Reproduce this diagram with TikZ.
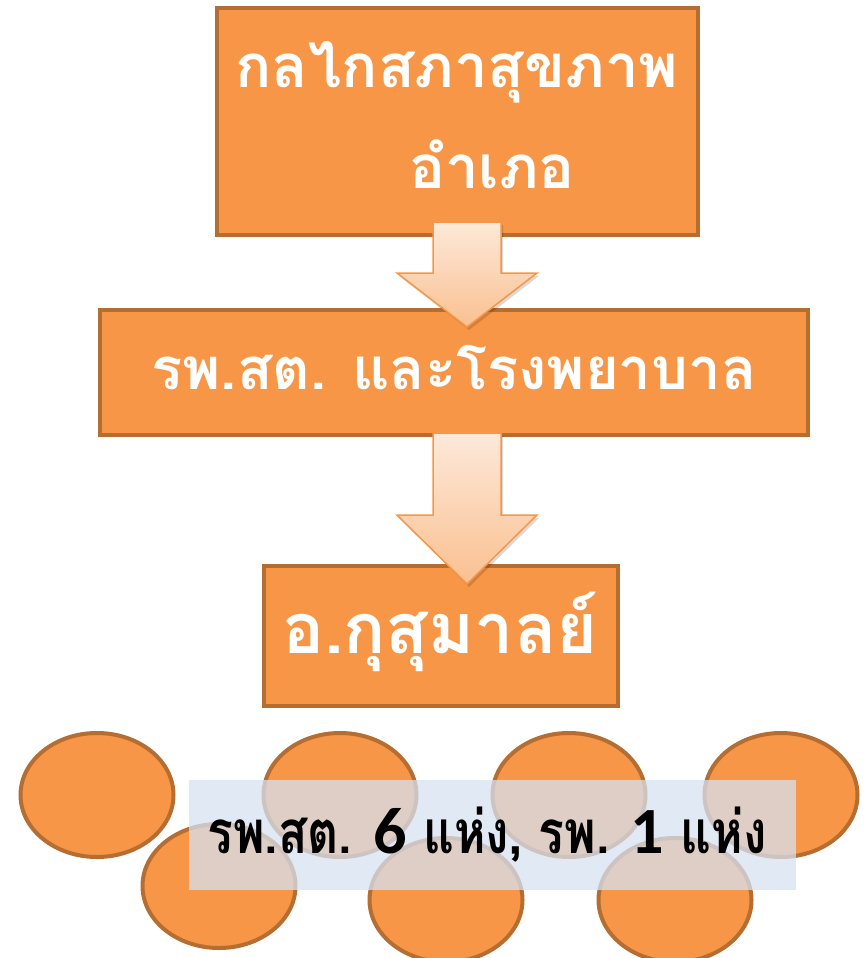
\documentclass[tikz,border=0pt]{standalone}
\usepackage{fontspec}
\newfontfamily\thaifont[Script=Thai]{Loma}
\newfontfamily\thaicond[Script=Thai,FakeStretch=0.8]{Loma}
\newfontfamily\digitfont{Carlito}
\usetikzlibrary{shapes.geometric}
\definecolor{boxfill}{HTML}{F79646}
\definecolor{boxline}{HTML}{B66D31}
\definecolor{arrtop}{HTML}{FDE9D9}
\definecolor{arrbot}{HTML}{FAC090}
\definecolor{arrline}{HTML}{F79646}
\definecolor{bluebox}{HTML}{D6E1F0}
\tikzset{
  box/.style={draw=boxline, fill=boxfill, line width=4pt, rectangle, inner sep=0pt},
  boxtext/.style={text=white, font=\thaifont\bfseries\fontsize{60}{101}\selectfont, inner sep=0pt},
  ell/.style={draw=boxline, fill=boxfill, line width=4pt, ellipse, inner sep=0pt, minimum width=153pt, minimum height=124pt},
  blockarrow/.style={top color=arrtop, bottom color=arrbot, draw=arrline, line width=1.5pt, line join=miter},
  arrshadow/.style={fill=black, opacity=0.15},
  digit/.style={},
}
\newcommand{\bigdigit}[1]{{\digitfont\bfseries\fontsize{66}{60}\selectfont #1}}
\begin{document}
\begin{tikzpicture}[x=1pt,y=-1pt]
\useasboundingbox (0,0) rectangle (864,958);
% boxes
\node[box, minimum width=481pt, minimum height=227pt] (b1) at (457.5,121.5) {};
\node[boxtext, anchor=base] (t1a) at (457,87) {กลไกสภาสุขภาพ};
\node[boxtext, anchor=base] (t1b) at (492,188) {อำเภอ};
\node[box, minimum width=708pt, minimum height=125pt] (b2) at (454,372.5) {};
\node[boxtext, anchor=base, font=\thaifont\bfseries\fontsize{58}{80}\selectfont] (t2) at (454,389) {รพ.สต. และโรงพยาบาล};
% arrow 1
\coordinate (a1) at (467,222);
\fill[arrshadow] ([xshift=2pt,yshift=-3pt]a1) ++(-34,0) -- ++(68,0) -- ++(0,51) -- ++(36,0) -- ++(-70,54) -- ++(-70,-54) -- ++(36,0) -- cycle;
\shade[blockarrow] (a1) ++(-34,0) -- ++(68,0) -- ++(0,51) -- ++(36,0) -- ++(-70,54) -- ++(-70,-54) -- ++(36,0) -- cycle;
\node[box, minimum width=354pt, minimum height=140pt] (b3) at (441,636) {};
\node[boxtext, anchor=base, font=\thaifont\bfseries\fontsize{70}{80}\selectfont] (t3) at (440,653) {อ.กุสุมาลย์};
% arrow 2
\coordinate (a2) at (467,433);
\fill[arrshadow] ([xshift=2pt,yshift=-3pt]a2) ++(-34,0) -- ++(68,0) -- ++(0,82) -- ++(36,0) -- ++(-70,69) -- ++(-70,-69) -- ++(36,0) -- cycle;
\shade[blockarrow] (a2) ++(-34,0) -- ++(68,0) -- ++(0,82) -- ++(36,0) -- ++(-70,69) -- ++(-70,-69) -- ++(36,0) -- cycle;
% ellipses
\node[ell] (e1) at (97,795) {};
\node[ell] (e2) at (340,795) {};
\node[ell] (e3) at (569,795) {};
\node[ell] (e4) at (781,795) {};
\node[ell] (e5) at (219,886) {};
\node[ell] (e6) at (446,900) {};
\node[ell] (e7) at (675,900) {};
% label band
\node[fill=bluebox, fill opacity=0.75, minimum width=607pt, minimum height=110pt, inner sep=0pt] (band) at (492.5,835) {};
\node[anchor=base, inner sep=0pt, text=black, font=\thaicond\bfseries\fontsize{60}{60}\selectfont] (t4) at (487,853) {รพ.สต. \bigdigit{6} แห่ง, รพ. \bigdigit{1} แห่ง};
\end{tikzpicture}
\end{document}
